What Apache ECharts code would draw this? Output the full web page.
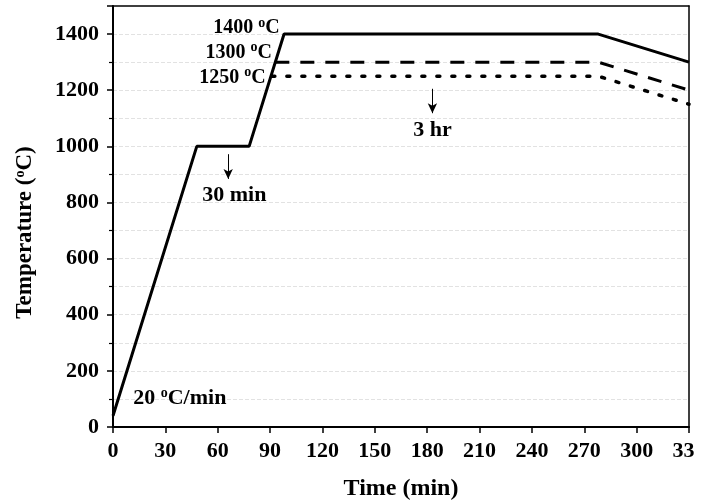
<!DOCTYPE html>
<html>
<head>
<meta charset="utf-8">
<script src="https://cdn.jsdelivr.net/npm/echarts@6/dist/echarts.min.js"></script>
<style>
  html, body { margin: 0; padding: 0; background: #fff; }
  #chart { width: 708px; height: 501px; }
</style>
</head>
<body>
<div id="chart"></div>
<script>
// heating schedules, time in min, temperature in degC
const solidTime = [0, 48, 78, 98, 278, 330];
const solidTemp = [40, 1000, 1000, 1400, 1400, 1300];
const dashTime = [93, 278, 330];
const dashTemp = [1300, 1300, 1200];
const dotTime = [91, 278, 330];
const dotTemp = [1250, 1250, 1150];

const xTickLabels = ['0', '30', '60', '90', '120', '150', '180', '210', '240', '270', '300', '33\u2007'];

// annotation texts and where they sit (data coords)
const noteText = ['1400 {s|o}C', '1300 {s|o}C', '1250 {s|o}C'];
const noteTime = [95.5, 91, 87.5];
const noteTemp = [1422, 1333, 1244];
const stepText = ['30 min', '3 hr', '20 {s|o}C/min'];
const stepTime = [69.5, 183, 11];
const stepTemp = [827, 1056, 144];
const arrowTime = [66, 183];
const arrowFrom = [972, 1205];
const arrowTo = [884, 1118];

const FONT = '"Liberation Serif", "Times New Roman", serif';

function pairs(xs, ys) {
  return xs.map((x, i) => [x, ys[i]]);
}

const chart = echarts.init(document.getElementById('chart'));

const supRich = {
  s: { fontSize: 14, fontWeight: 'bold', fontFamily: FONT, color: '#000', padding: [0, 0, 10, 0] }
};

const gridLine = { color: '#e2e2e2', width: 1, type: 'dashed' };
const frameAxis = { show: true, onZero: false, lineStyle: { color: '#000', width: 1.5 } };

const option = {
  backgroundColor: '#ffffff',
  animation: false,
  grid: { left: 113, right: 19, top: 6, bottom: 74, containLabel: false, outerBoundsMode: 'none' },
  xAxis: [{
    type: 'value',
    min: 0, max: 330, interval: 30,
    name: 'Time (min)',
    nameLocation: 'middle',
    nameGap: 50,
    nameTextStyle: { fontFamily: FONT, fontWeight: 'bold', fontSize: 24, color: '#000' },
    axisLine: { show: true, onZero: false, lineStyle: { color: '#000', width: 2 } },
    axisTick: { show: true, inside: false, length: 6, lineStyle: { color: '#000', width: 1.5 } },
    axisLabel: {
      margin: 13,
      fontFamily: FONT, fontWeight: 'bold', fontSize: 22, color: '#000',
      formatter: function (v) { return xTickLabels[Math.round(v / 30)]; }
    },
    splitLine: { show: false }
  }, {
    // top frame
    type: 'value', position: 'top', min: 0, max: 330,
    axisLine: frameAxis, axisTick: { show: false }, axisLabel: { show: false }, splitLine: { show: false }
  }],
  yAxis: [{
    type: 'value',
    min: 0, max: 1500, interval: 200,
    name: 'Temperature ({s|o}C)',
    nameLocation: 'middle',
    nameGap: 76,
    nameRotate: 90,
    nameTextStyle: {
      fontFamily: FONT, fontWeight: 'bold', fontSize: 23, color: '#000',
      padding: [0, 32, 0, 0],
      rich: supRich
    },
    axisLine: { show: true, onZero: false, lineStyle: { color: '#000', width: 2 } },
    axisTick: { show: true, inside: false, length: 6, lineStyle: { color: '#000', width: 1.5 } },
    minorTick: { show: true, splitNumber: 2, length: 4, lineStyle: { color: '#000', width: 1.2 } },
    axisLabel: {
      margin: 14,
      fontFamily: FONT, fontWeight: 'bold', fontSize: 22, color: '#000',
      showMaxLabel: false,
      formatter: function (v) { return String(v); }
    },
    splitLine: { show: true, showMinLine: false, showMaxLine: false, lineStyle: gridLine },
    minorSplitLine: { show: true, lineStyle: gridLine }
  }, {
    // right frame
    type: 'value', position: 'right', min: 0, max: 1500,
    axisLine: frameAxis, axisTick: { show: false }, axisLabel: { show: false }, splitLine: { show: false }
  }],
  series: [
    {
      name: '1400', type: 'line', data: pairs(solidTime, solidTemp),
      symbol: 'none', lineStyle: { color: '#000', width: 3 }
    },
    {
      name: '1300', type: 'line', data: pairs(dashTime, dashTemp),
      symbol: 'none', lineStyle: { color: '#000', width: 3, type: [14, 11] }
    },
    {
      name: '1250', type: 'line', data: pairs(dotTime, dotTemp),
      symbol: 'none', lineStyle: { color: '#000', width: 3.5, type: [3, 12], cap: 'round' }
    },
    {
      name: 'notes', type: 'scatter', data: pairs(noteTime, noteTemp),
      symbolSize: 0, silent: true, itemStyle: { opacity: 1 },
      label: {
        show: true, position: 'left', distance: 0, opacity: 1,
        formatter: function (p) { return noteText[p.dataIndex]; },
        fontFamily: FONT, fontWeight: 'bold', fontSize: 20, color: '#000',
        rich: supRich
      }
    },
    {
      name: 'steps', type: 'scatter', data: pairs(stepTime, stepTemp),
      symbolSize: 0, silent: true, itemStyle: { opacity: 1 },
      label: {
        show: true, position: 'inside', opacity: 1,
        formatter: function (p) { return stepText[p.dataIndex]; },
        fontFamily: FONT, fontWeight: 'bold', fontSize: 22, color: '#000',
        rich: supRich
      },
      labelLayout: function (params) {
        // left-anchor the rate label
        if (params.dataIndex === 2) {
          return { x: params.rect.x + params.rect.width / 2 + 1, align: 'left' };
        }
        return {};
      },
      markLine: {
        silent: true,
        symbol: ['none', 'arrow'],
        symbolSize: [7, 10],
        label: { show: false },
        lineStyle: { color: '#000', width: 1, type: 'solid', opacity: 1 },
        data: arrowTime.map((t, i) => [{ coord: [t, arrowFrom[i]] }, { coord: [t, arrowTo[i]] }])
      }
    }
  ]
};

chart.setOption(option);
</script>
</body>
</html>
